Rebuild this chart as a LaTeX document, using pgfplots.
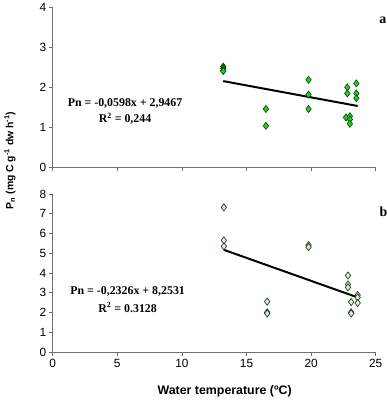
\documentclass[border=0pt]{standalone}
\usepackage{pgfplots}
\pgfplotsset{compat=1.18}
\usepackage{fontspec}
\setmainfont{Liberation Serif}
\setsansfont{Liberation Sans}

\definecolor{greenA}{RGB}{40,200,40}
\definecolor{greenAdark}{RGB}{20,120,20}
\definecolor{greenB}{RGB}{205,250,205}
\definecolor{axisgray}{RGB}{110,110,110}

\tikzset{
  eqlabel/.style={font=\bfseries\fontsize{12}{14}\selectfont, align=center},
}

\pgfplotsset{
  panel/.style={
    scale only axis,
    width=325bp,
    xmin=0, xmax=25,
    xtick={0,5,...,25},
    axis x line*=bottom,
    axis y line*=left,
    axis line style={-, axisgray, line width=0.8bp},
    tick style={axisgray, line width=0.8bp},
    tick align=outside,
    major tick length=4bp,
    ticklabel style={font=\sffamily\fontsize{12}{14}\selectfont},
    yticklabel style={xshift=1bp},
    /pgf/number format/assume math mode=true,
    clip=false,
    anchor=south west,
  },
  ptsA/.style={only marks, mark=diamond*, mark size=3.6bp,
    mark options={fill=greenA, draw=black!70!green, line width=0.6bp}},
  ptsAd/.style={only marks, mark=diamond*, mark size=3.6bp,
    mark options={fill=greenAdark, draw=black!70!green, line width=0.6bp}},
  ptsB/.style={only marks, mark=diamond*, mark size=3.6bp,
    mark options={fill=greenB, draw=black!80, line width=0.7bp}},
}

\begin{document}
\begin{tikzpicture}
\path (0bp,0bp) rectangle (389bp,402bp);

% panel a
\begin{axis}[panel, at={(53bp,236bp)}, height=161bp,
  ymin=0, ymax=4, ytick={0,1,2,3,4}, xticklabels={}]
  \addplot[ptsAd] coordinates {(13.2,2.52) (13.2,2.48) (13.2,2.42)};
  \addplot[ptsA] coordinates {
    (13.2,2.41)
    (16.5,1.46) (16.5,1.04)
    (19.8,2.19) (19.8,1.82) (19.8,1.46)
    (22.8,2.00) (22.8,1.85) (22.7,1.25)
    (23.0,1.28) (23.0,1.20) (23.0,1.09)
    (23.5,2.10) (23.5,1.85) (23.5,1.73)};
  \addplot[black, line width=2bp, no marks] coordinates {(13.2,2.1573) (23.6,1.5354)};
  \node[eqlabel] at (axis cs:5.6,1.59) {Pn = -0,0598x + 2,9467};
  \node[eqlabel] at (axis cs:5.6,1.22) {R\textsuperscript{2} = 0,244};
  \node[overlay, font=\bfseries\fontsize{14}{16}\selectfont] at (axis cs:25.55,3.68) {a};
\end{axis}

% panel b
\begin{axis}[panel, at={(53bp,50.3bp)}, height=159bp,
  ymin=0, ymax=8, ytick={0,1,...,8}]
  \addplot[ptsB] coordinates {
    (13.25,7.32) (13.25,5.65) (13.25,5.35)
    (16.6,2.55) (16.6,2.01) (16.6,1.95)
    (19.8,5.41) (19.8,5.31)
    (22.85,3.87) (22.85,3.42) (22.85,3.27)
    (23.1,2.53) (23.1,2.01) (23.1,1.95)
    (23.6,2.88) (23.6,2.76) (23.6,2.48)};
  \addplot[black, line width=2bp, no marks] coordinates {(13.25,5.1711) (23.6,2.7638)};
  \node[eqlabel] at (axis cs:5.8,3.08) {Pn = -0,2326x + 8,2531};
  \node[eqlabel] at (axis cs:5.8,2.26) {R\textsuperscript{2} = 0.3128};
  \node[overlay, font=\bfseries\fontsize{14}{16}\selectfont] at (axis cs:25.6,7.12) {b};
\end{axis}

% shared axis titles
\node[rotate=90, font=\sffamily\bfseries\fontsize{10.5}{12}\selectfont]
  at (10bp,243bp) {P\textsubscript{n} (mg C g\textsuperscript{-1} dw h\textsuperscript{-1})};
\node[font=\sffamily\bfseries\fontsize{12.5}{14}\selectfont]
  at (226bp,10.5bp) {Water temperature (ºC)};
\end{tikzpicture}
\end{document}
